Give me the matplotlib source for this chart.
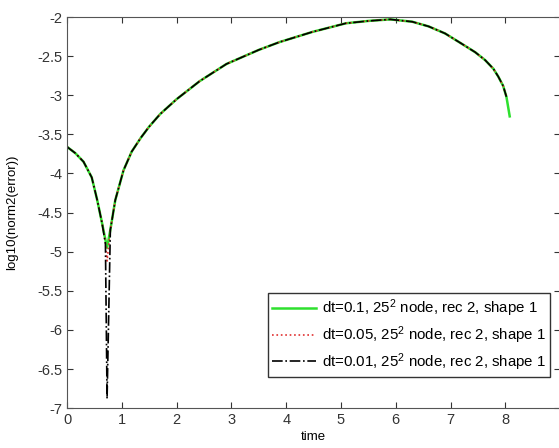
import matplotlib
matplotlib.use('Agg')
import matplotlib.pyplot as plt

plt.rcParams['font.family'] = ['Liberation Sans', 'DejaVu Sans']
plt.rcParams['mathtext.default'] = 'regular'

# time points (shared) and log10 error for each time step
t = [0.0, 0.15, 0.3, 0.45, 0.55, 0.64, 0.70, 0.73, 0.79, 0.88, 1.03, 1.18,
     1.35, 1.5, 1.7, 2.0, 2.42, 2.91, 3.5, 3.88, 4.48, 5.09, 5.5, 5.9, 6.3,
     6.6, 6.9, 7.2, 7.45, 7.63, 7.78, 7.87, 7.96, 8.02]
err_01 = [-3.66, -3.74, -3.85, -4.05, -4.34, -4.64, -4.85, -4.95, -4.72, -4.34,
          -3.96, -3.72, -3.54, -3.4, -3.24, -3.05, -2.82, -2.6, -2.42, -2.32,
          -2.19, -2.08, -2.05, -2.03, -2.06, -2.12, -2.21, -2.34, -2.45, -2.55,
          -2.66, -2.76, -2.88, -3.02]
err_005 = [-3.66, -3.74, -3.85, -4.05, -4.34, -4.64, -4.87, -5.12, -4.72, -4.34,
           -3.96, -3.72, -3.54, -3.4, -3.24, -3.05, -2.82, -2.6, -2.42, -2.32,
           -2.19, -2.08, -2.05, -2.03, -2.06, -2.12, -2.21, -2.34, -2.45, -2.55,
           -2.66, -2.76, -2.88, -3.02]
err_001 = [-3.66, -3.74, -3.85, -4.05, -4.34, -4.64, -4.9, -6.88, -4.72, -4.34,
           -3.96, -3.72, -3.54, -3.4, -3.24, -3.05, -2.82, -2.6, -2.42, -2.32,
           -2.19, -2.08, -2.05, -2.03, -2.06, -2.12, -2.21, -2.34, -2.45, -2.55,
           -2.66, -2.76, -2.88, -3.02]
# green run goes a little further
t_end_01 = [8.08]
err_end_01 = [-3.27]

labels = [r'dt=0.1, 25$^2$ node, rec 2, shape 1',
          r'dt=0.05, 25$^2$ node, rec 2, shape 1',
          r'dt=0.01, 25$^2$ node, rec 2, shape 1']

fig = plt.figure(figsize=(5.59, 4.48), dpi=100)
ax = fig.add_axes([0.12, 0.089, 0.882, 0.873])

ax.plot(t + t_end_01, err_01 + err_end_01, color='#2ee02e', lw=1.8, label=labels[0])
ax.plot(t, err_005, color='#e03030', lw=1.2, ls=':', label=labels[1])
ax.plot(t, err_001, color='black', lw=1.2, ls='-.', label=labels[2])

ax.set_xlim(0, 9)
ax.set_ylim(-7, -2)
ax.set_xticks(range(0, 9))
ax.set_yticks([-7, -6.5, -6, -5.5, -5, -4.5, -4, -3.5, -3, -2.5, -2])
ax.set_yticklabels(['-7', '-6.5', '-6', '-5.5', '-5', '-4.5', '-4', '-3.5', '-3', '-2.5', '-2'])
ax.tick_params(direction='in', top=True, right=True, labelsize=10.5, colors='#333333', length=4)
for s in ax.spines.values():
    s.set_color('#555555')
ax.set_xlabel('time', fontsize=9.5, labelpad=3)
ax.set_ylabel('log10(norm2(error))', fontsize=9.5, labelpad=14)

leg = ax.legend(loc='lower right', fontsize=10.8, fancybox=False, edgecolor='#333333',
                framealpha=1, handlelength=2.9, handletextpad=0.4, borderpad=0.3,
                labelspacing=0.35, borderaxespad=0, bbox_to_anchor=(0.98, 0.079))
leg.get_frame().set_linewidth(1.0)

fig.savefig('out.png', dpi=100)
